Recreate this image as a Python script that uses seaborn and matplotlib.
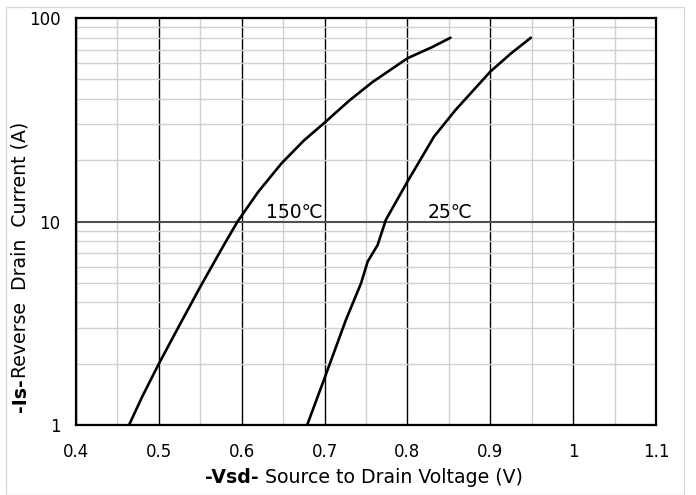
import numpy as np
import pandas as pd
import seaborn as sns
import matplotlib.pyplot as plt
from matplotlib.patches import Rectangle
from matplotlib.ticker import FixedLocator, NullFormatter

# curve data
vsd_150 = [0.464, 0.48, 0.50, 0.525, 0.55, 0.5785, 0.595, 0.62, 0.648, 0.675, 0.70, 0.7305, 0.758, 0.80, 0.83, 0.852]
is_150 = [1.0, 1.38, 2.0, 3.1, 4.78, 7.67, 10.0, 14.0, 19.3, 25.0, 30.6, 39.5, 48.5, 63.4, 72.0, 80.0]
vsd_25 = [0.679, 0.70, 0.7257, 0.744, 0.752, 0.764, 0.774, 0.80, 0.832, 0.858, 0.90, 0.925, 0.949]
is_25 = [1.0, 1.70, 3.28, 4.97, 6.35, 7.66, 10.2, 15.7, 26.1, 35.3, 54.5, 67.0, 80.0]

curve_labels = ['150℃', '25℃']
label_pos = [(0.664, 10.45), (0.851, 10.45)]

x_ticks = [0.4, 0.5, 0.6, 0.7, 0.8, 0.9, 1.0, 1.1]
x_ticklabels = ['0.4', '0.5', '0.6', '0.7', '0.8', '0.9', '1', '1.1']
y_ticks = [1, 10, 100]
y_ticklabels = ['1', '10', '100']

sns.set_style('white')
plt.rcParams['font.family'] = ['DejaVu Sans']
plt.rcParams['text.color'] = 'black'

df = pd.DataFrame({
    'Vsd': vsd_150 + vsd_25,
    'Is': is_150 + is_25,
    'T': ['150'] * len(vsd_150) + ['25'] * len(vsd_25),
})

fig = plt.figure(figsize=(6.96, 4.95), dpi=100)
ax = fig.add_axes([0.1092, 0.1414, 0.8333, 0.8222])

sns.lineplot(data=df, x='Vsd', y='Is', hue='T', palette=['black', 'black'],
             sort=False, estimator=None, legend=False, lw=1.9, ax=ax, zorder=5)

ax.set_yscale('log')
ax.set_xlim(0.4, 1.1)
ax.set_ylim(1, 100)

# grid: light minor lines, dark major lines
ax.xaxis.set_minor_locator(FixedLocator(np.arange(0.45, 1.1, 0.1)))
ax.yaxis.set_minor_locator(FixedLocator([m * d for d in (1, 10) for m in range(2, 10)]))
ax.xaxis.set_minor_formatter(NullFormatter())
ax.yaxis.set_minor_formatter(NullFormatter())
ax.grid(which='minor', color='#d0d0d0', lw=1.0)
ax.grid(which='major', axis='x', color='black', lw=1.0)
ax.grid(which='major', axis='y', color='#505050', lw=1.5)
ax.set_axisbelow(True)

ax.set_xticks(x_ticks)
ax.set_xticklabels(x_ticklabels)
ax.set_yticks(y_ticks)
ax.set_yticklabels(y_ticklabels)
ax.tick_params(which='both', length=0, labelsize=12, colors='black', labelcolor='black')
ax.tick_params(axis='y', pad=11)
ax.tick_params(axis='x', pad=13)

for s in ax.spines.values():
    s.set_visible(True)
    s.set_color('black')
    s.set_linewidth(1.6)

for txt, (x, y) in zip(curve_labels, label_pos):
    ax.text(x, y, txt, ha='center', va='baseline', fontsize=13.5, color='black', zorder=6)

ax.set_xlabel('')
ax.set_ylabel('')

# axis titles with a bold prefix
xl1 = fig.text(205 / 696, 1 - 483 / 495, '-Vsd-', fontsize=13.6, weight='bold', color='black',
               ha='left', va='baseline')
ax.annotate(' Source to Drain Voltage (V)', xy=(1, 0), xycoords=xl1, color='black',
            ha='left', va='bottom', fontsize=13.6, annotation_clip=False)
yl1 = fig.text(30 / 696, 1 - 412 / 495, '-Is-', fontsize=13.6, weight='bold', rotation=90,
               color='black', ha='right', va='bottom')
ax.annotate('Reverse  Drain  Current (A)', xy=(1, 1), xycoords=yl1, rotation=90, color='black',
            ha='right', va='bottom', fontsize=13.6, annotation_clip=False)

fig.patches.append(Rectangle((6 / 696, 0.5 / 495), 678 / 696, 488 / 495, transform=fig.transFigure,
                             fill=False, edgecolor='#d9d9d9', lw=1))

fig.savefig('out.png', dpi=100)
